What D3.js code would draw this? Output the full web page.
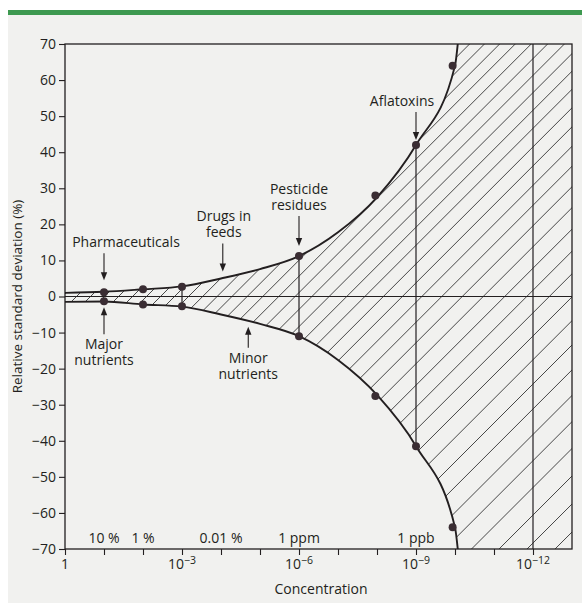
<!DOCTYPE html>
<html lang="en">
<head>
<meta charset="UTF-8">
<title>Relative standard deviation vs concentration</title>
<style>
  body { margin: 0; background: #fff; }
  svg { display: block; font-family: "Open Sans", "DejaVu Sans", sans-serif; }
</style>
</head>
<body>
<svg id="chart" width="582" height="603"></svg>
<script src="https://d3js.org/d3.v7.min.js"></script>
<script>
// ---- data ----
// trumpet curve: concentration (mass fraction) and RSD (%) of the upper / lower branch
var curveConc  = [1, 1e-1, 1e-2, 1e-3, 1e-4, 1e-5, 1e-6, 1e-7, 1e-8, 1e-9, 1e-10, 8.5e-11];
var curveUpper = [1.0, 1.3, 2.0, 2.8, 5.0, 7.6, 11.2, 17.8, 27.5, 42, 64, 70];
var curveLower = [-1.5, -1.4, -2.2, -2.8, -5.0, -7.6, -11.0, -17.6, -27.3, -41.5, -64, -70];

// measured points
var dotConc  = [1e-1, 1e-2, 1e-3, 1e-6, 1.1e-8, 1e-9, 1.15e-10];
var dotUpper = [1.2, 2.0, 2.7, 11.2, 28, 42, 64];
var dotLower = [-1.3, -2.2, -2.7, -11.0, -27.6, -41.5, -64];

// vertical bars joining the two points, and the full-height line
var barConc = [1e-3, 1e-6, 1e-9];
var fullLineConc = [1e-12];

// axes
var yTicks = [-70, -60, -50, -40, -30, -20, -10, 0, 10, 20, 30, 40, 50, 60, 70];
var xTicks = [1, 1e-1, 1e-2, 1e-3, 1e-4, 1e-5, 1e-6, 1e-7, 1e-8, 1e-9, 1e-10, 1e-11, 1e-12];
var xLabelConc = [1, 1e-3, 1e-6, 1e-9, 1e-12];
var xLabelExp  = [null, "\u22123", "\u22126", "\u22129", "\u221212"];

// unit labels along the bottom
var unitConc = [1e-1, 1e-2, 1e-4, 1e-6, 1e-9];
var unitText = ["10 %", "1 %", "0.01 %", "1 ppm", "1 ppb"];

// annotations: text, concentration, RSD value pointed at, direction of the arrow
var noteText = [["Pharmaceuticals"], ["Drugs in", "feeds"], ["Pesticide", "residues"], ["Aflatoxins"],
                ["Major", "nutrients"], ["Minor", "nutrients"]];
var noteConc = [1e-1, 9e-5, 1e-6, 1e-9, 1e-1, 2e-5];
var noteValue = [1.2, 5.0, 11.2, 42, -1.3, -7.0];
var noteDir = ["down", "down", "down", "down", "up", "up"];

// ---- layout ----
var W = 582, H = 603;
var m = {left: 65, right: 572, top: 44, bottom: 549};
var ink = "#231f20";
var fs = 14;
var noteShift = [22, 1, 0, -14, 0, 0];    // horizontal text offset of each note
var noteGap   = [12, 7, 10, 5, 6, 5];     // gap between arrow tip and the point
var noteLen   = [27, 28, 30, 28, 27, 21]; // arrow length

var svg = d3.select("#chart");

svg.append("rect").attr("width", W).attr("height", H).attr("fill", "#fff");
svg.append("rect").attr("x", 8).attr("y", 15).attr("width", W - 8).attr("height", H - 15).attr("fill", "#f1f1ef");
svg.append("rect").attr("x", 8).attr("y", 10).attr("width", W - 8).attr("height", 5).attr("fill", "#3d9950");

var x = d3.scaleLog().domain([1, 1e-13]).range([m.left, m.right]);
var y = d3.scaleLinear().domain([-70, 70]).range([m.bottom, m.top]);

var pts = curveConc.map(function (c, i) { return {c: c, u: curveUpper[i], l: curveLower[i]}; });

// clip region for the hatching: between the curves, and everything right of where they leave the plot
var defs = svg.append("defs");
var clip = defs.append("clipPath").attr("id", "hatchClip");
var area = d3.area()
  .x(function (d) { return x(d.c); })
  .y0(function (d) { return y(d.l); })
  .y1(function (d) { return y(d.u); })
  .curve(d3.curveMonotoneX);
clip.append("path").attr("d", area(pts));
var exitX = x(curveConc[curveConc.length - 1]);
clip.append("rect").attr("x", exitX).attr("y", m.top).attr("width", m.right - exitX).attr("height", m.bottom - m.top);

defs.append("clipPath").attr("id", "plotClip")
  .append("rect").attr("x", m.left).attr("y", m.top).attr("width", m.right - m.left).attr("height", m.bottom - m.top);

// 45 degree hatching, a little wider apart towards the lower right
var hatch = [];
for (var c = m.left + m.top + 250; c < m.right + m.bottom + 30; ) {
  hatch.push(c);
  c += 14 + 14 * Math.max(0, Math.min(1, (c - 480) / 560));
}
svg.append("g").attr("clip-path", "url(#plotClip)")
  .append("g").attr("clip-path", "url(#hatchClip)")
  .selectAll("line").data(hatch).join("line")
  .attr("x1", function (d) { return d - m.bottom - 10; }).attr("y1", m.bottom + 10)
  .attr("x2", function (d) { return d - m.top + 10; }).attr("y2", m.top - 10)
  .attr("stroke", "#333").attr("stroke-width", 0.9);

// zero line
svg.append("line").attr("x1", m.left).attr("x2", m.right).attr("y1", y(0)).attr("y2", y(0))
  .attr("stroke", ink).attr("stroke-width", 1);

// vertical lines
svg.selectAll(".bar").data(barConc).join("line").attr("class", "bar")
  .attr("x1", function (d) { return x(d); }).attr("x2", function (d) { return x(d); })
  .attr("y1", function (d) { return y(dotUpper[dotConc.indexOf(d)]); })
  .attr("y2", function (d) { return y(dotLower[dotConc.indexOf(d)]); })
  .attr("stroke", ink).attr("stroke-width", 1.2);
svg.selectAll(".full").data(fullLineConc).join("line").attr("class", "full")
  .attr("x1", function (d) { return x(d); }).attr("x2", function (d) { return x(d); })
  .attr("y1", m.top).attr("y2", m.bottom)
  .attr("stroke", ink).attr("stroke-width", 1.2);

// curves
var curveG = svg.append("g").attr("clip-path", "url(#plotClip)");
["u", "l"].forEach(function (k) {
  curveG.append("path")
    .attr("d", d3.line().x(function (d) { return x(d.c); }).y(function (d) { return y(d[k]); })
      .curve(d3.curveMonotoneX)(pts))
    .attr("fill", "none").attr("stroke", ink).attr("stroke-width", 1.9);
});

// points
var dots = [];
dotConc.forEach(function (c, i) { dots.push({c: c, v: dotUpper[i]}); dots.push({c: c, v: dotLower[i]}); });
svg.selectAll(".dot").data(dots).join("circle").attr("class", "dot")
  .attr("cx", function (d) { return x(d.c); }).attr("cy", function (d) { return y(d.v); })
  .attr("r", 4).attr("fill", "#3a2d33");

// frame
svg.append("rect").attr("x", m.left).attr("y", m.top).attr("width", m.right - m.left).attr("height", m.bottom - m.top)
  .attr("fill", "none").attr("stroke", ink).attr("stroke-width", 1.3);

// y axis
var yAxis = svg.append("g").attr("transform", "translate(" + m.left + ",0)")
  .call(d3.axisLeft(y).tickValues(yTicks).tickSize(6).tickPadding(3)
    .tickFormat(function (d) { return d < 0 ? "\u2212" + (-d) : d; }));
yAxis.select(".domain").remove();
yAxis.selectAll("line").attr("stroke", ink).attr("stroke-width", 1.1);
yAxis.selectAll("text").attr("fill", ink).attr("font-size", fs).attr("font-family", "Open Sans");

// x axis
var xAxis = svg.append("g").attr("transform", "translate(0," + m.bottom + ")")
  .call(d3.axisBottom(x).tickValues(xTicks).tickSize(6).tickFormat(""));
xAxis.select(".domain").remove();
xAxis.selectAll("line").attr("stroke", ink).attr("stroke-width", 1.1);

var xl = svg.selectAll(".xl").data(xLabelConc).join("text").attr("class", "xl")
  .attr("x", function (d) { return x(d); }).attr("y", 569)
  .attr("text-anchor", "middle").attr("font-size", fs).attr("fill", ink);
xl.each(function (d, i) {
  var t = d3.select(this);
  if (xLabelExp[i] === null) { t.text("1"); return; }
  t.append("tspan").text("10");
  t.append("tspan").attr("dy", -5).attr("font-size", 10.5).text(xLabelExp[i]);
});

svg.append("text").attr("x", 321).attr("y", 594).attr("text-anchor", "middle")
  .attr("font-size", fs).attr("fill", ink).text("Concentration");

svg.append("text").attr("transform", "translate(22," + y(0) + ") rotate(-90)")
  .attr("text-anchor", "middle").attr("font-size", 13.5).attr("fill", ink)
  .text("Relative standard deviation (%)");

// unit labels
svg.selectAll(".unit").data(unitText).join("text").attr("class", "unit")
  .attr("x", function (d, i) { return x(unitConc[i]); }).attr("y", 543)
  .attr("text-anchor", "middle").attr("font-size", fs).attr("fill", ink).text(function (d) { return d; });

// annotations with arrows
noteText.forEach(function (lines, i) {
  var ax = x(noteConc[i]);
  var ty = y(noteValue[i]);
  var g = svg.append("g");
  var tip, tail, head, firstBase;
  if (noteDir[i] === "down") {
    tip = ty - noteGap[i]; tail = tip - noteLen[i];
    head = [[ax, tip], [ax - 3.2, tip - 8], [ax + 3.2, tip - 8]];
    firstBase = tail - 6 - (lines.length - 1) * 16;
  } else {
    tip = ty + noteGap[i]; tail = tip + noteLen[i];
    head = [[ax, tip], [ax - 3.2, tip + 8], [ax + 3.2, tip + 8]];
    firstBase = tail + 15;
  }
  var t = g.append("text").attr("x", ax + noteShift[i]).attr("y", firstBase)
    .attr("text-anchor", "middle").attr("font-size", fs).attr("fill", ink);
  lines.forEach(function (s, j) {
    t.append("tspan").attr("x", ax + noteShift[i]).attr("dy", j === 0 ? 0 : 16).text(s);
  });
  g.append("line").attr("x1", ax).attr("x2", ax).attr("y1", tail).attr("y2", tip - (noteDir[i] === "down" ? 4 : -4))
    .attr("stroke", ink).attr("stroke-width", 1.1);
  g.append("path").attr("d", d3.line()(head) + "Z").attr("fill", ink);
});
</script>
</body>
</html>
